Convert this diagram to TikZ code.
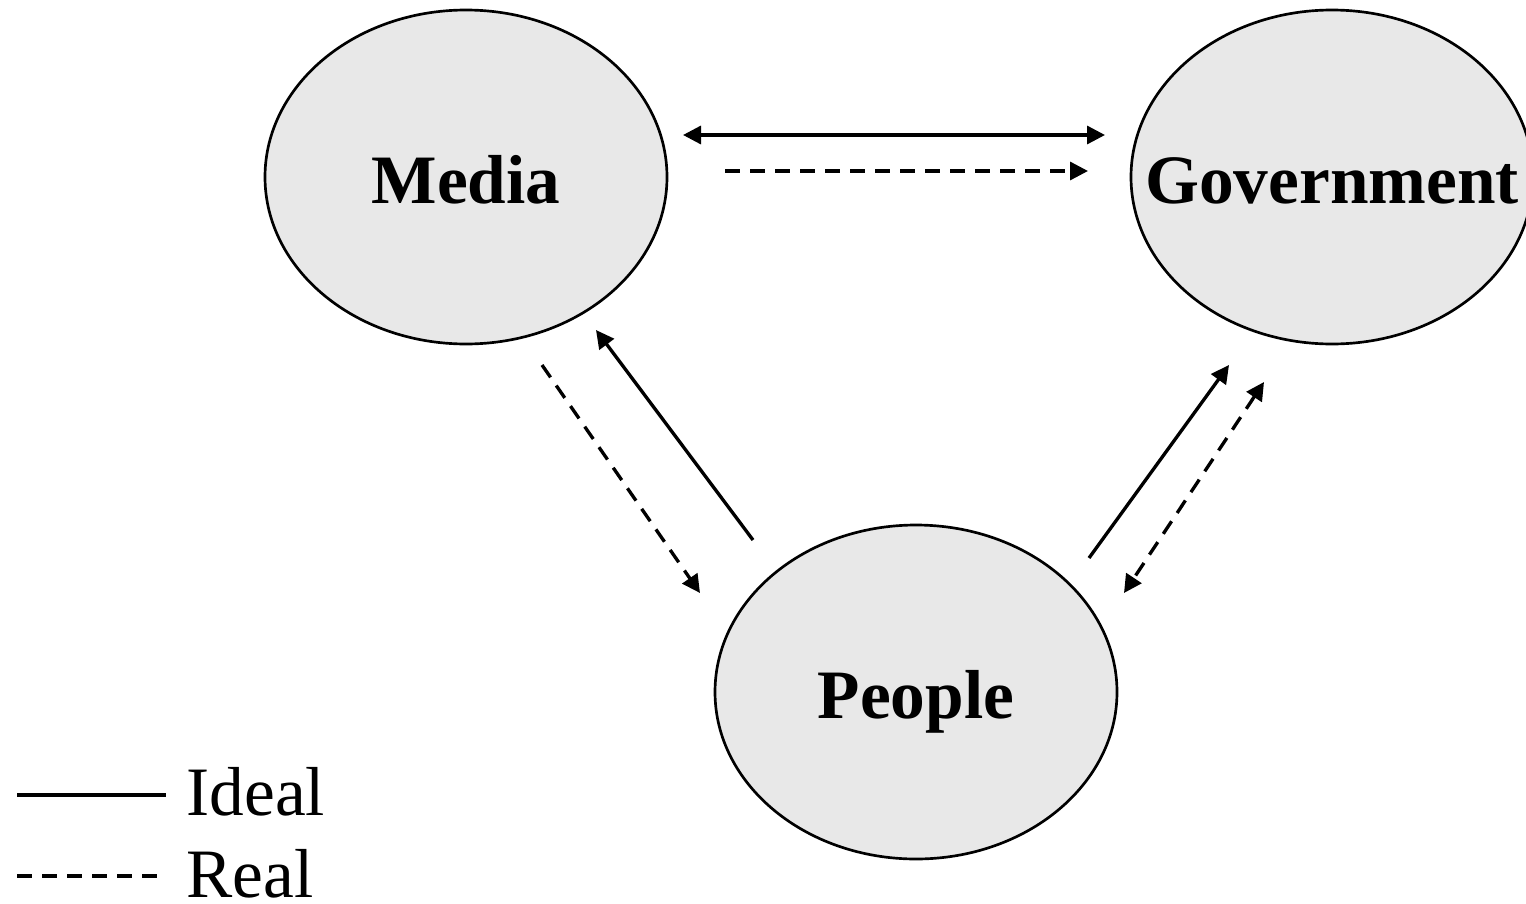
\documentclass[tikz,border=0pt]{standalone}
\usepackage{fontspec}
\setmainfont{Liberation Serif}
\usetikzlibrary{arrows.meta,shapes.geometric}

\tikzset{every picture/.style={line width=0.75pt}}
\tikzset{
  bubble/.style={draw, line width=2, ellipse, fill={rgb,255:red,232;green,232;blue,232}, minimum width=301.5pt, minimum height=250.5pt, inner sep=0pt},
  bubbletext/.style={font=\fontsize{52}{60}\selectfont\bfseries, text height=39pt, text depth=0pt, inner sep=0pt},
  legendtext/.style={font=\fontsize{52}{60}\selectfont, inner sep=0pt},
  link/.style={line width=2.5, -{Triangle[length=13.5pt,width=13.5pt]}},
  twolink/.style={line width=2.5, {Triangle[length=13.5pt,width=13.5pt]}-{Triangle[length=13.5pt,width=13.5pt]}},
  dashlink/.style={dash pattern=on 11.25pt off 7.5pt}
}

\begin{document}
\begin{tikzpicture}[x=0.75pt,y=0.75pt,yscale=-1,xscale=1]
\useasboundingbox (0,0) rectangle (1526,903);

%Shape: Ellipse
\node [bubble, label={[bubbletext]center:Media}] (media) at (466,177) {};
%Shape: Ellipse
\node [bubble, label={[bubbletext]center:Government}] (gov) at (1332,177) {};
%Shape: Ellipse
\node [bubble, label={[bubbletext]center:People}] (people) at (916,692) {};

% arrow ends
\coordinate (mgA) at (683,135);
\coordinate (mgB) at (1105,135);
\coordinate (mgC) at (725,171);
\coordinate (mgD) at (1088,171);
\coordinate (mpA) at (542,365);
\coordinate (mpB) at (700,593);
\coordinate (pmA) at (753,540);
\coordinate (pmB) at (596,330);
\coordinate (pgA) at (1089,558);
\coordinate (pgB) at (1229,365);
\coordinate (gpA) at (1264,382);
\coordinate (gpB) at (1124,593);

%Straight Lines
\draw [twolink] (mgA) -- (mgB);
\draw [link, dashlink] (mgC) -- (mgD);
%Straight Lines
\draw [link, dashlink] (mpA) -- (mpB);
\draw [link] (pmA) -- (pmB);
%Straight Lines
\draw [link] (pgA) -- (pgB);
\draw [twolink, dashlink] (gpA) -- (gpB);

% Legend
\coordinate (lgA) at (17,795);
\coordinate (lgB) at (166,795);
\coordinate (lgC) at (17,876);
\coordinate (lgD) at (157,876);
\draw [line width=2.5] (lgA) -- (lgB);
\draw [line width=2.5, dashlink] (lgC) -- (lgD);
% Text Node
\node [legendtext, anchor=base west] (ideal) at (186,815) {Ideal};
% Text Node
\node [legendtext, anchor=base west] (real) at (186,897) {Real};

\end{tikzpicture}
\end{document}
